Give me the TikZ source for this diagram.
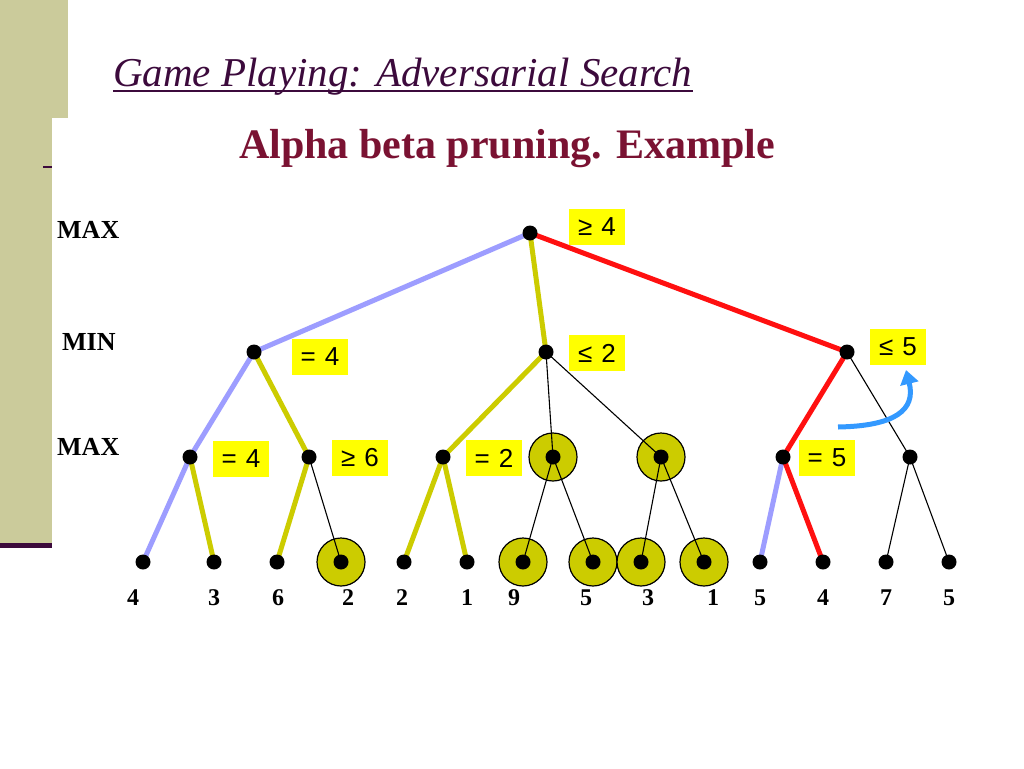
\documentclass[tikz,border=0pt]{standalone}
\usepackage{fontspec}
\setmainfont{Liberation Serif}
\newfontfamily\lsans{Liberation Sans}
\usetikzlibrary{arrows.meta,calc}
\definecolor{olivebg}{HTML}{CBCB9B}
\definecolor{purp}{HTML}{3C0A3C}
\definecolor{maroon}{HTML}{7A1232}
\definecolor{eblue}{HTML}{9D9DFF}
\definecolor{eyel}{HTML}{CCCC00}
\definecolor{ered}{HTML}{FF1010}
\definecolor{arrowblue}{HTML}{3399FF}
\definecolor{circy}{HTML}{CCCC00}
\definecolor{labbg}{HTML}{FFFF00}
\pgfdeclarelayer{paper}
\pgfdeclarelayer{circ}
\pgfdeclarelayer{edges}
\pgfsetlayers{paper,circ,edges,main}
\newcommand{\gap}{\hspace{9pt}}
\tikzset{
  dot/.style={circle,fill=black,inner sep=0pt,minimum size=15pt},
  ring/.style={circle,fill=circy,draw=black,line width=1.2pt,inner sep=0pt,minimum size=48pt},
  eb/.style={eblue,line width=5pt},
  ey/.style={eyel,line width=5pt},
  er/.style={ered,line width=5pt},
  ek/.style={black,line width=1.1pt},
  lab/.style={fill=labbg,font=\lsans\fontsize{26}{26}\selectfont,inner xsep=3pt,minimum height=36pt,minimum width=56pt},
  leaf/.style={font=\bfseries\fontsize{24}{24}\selectfont,inner sep=0pt},
  lvl/.style={font=\bfseries\fontsize{26}{26}\selectfont,inner sep=0pt,anchor=west},
}
\begin{document}
\begin{tikzpicture}[x=1pt,y=-1pt]
\useasboundingbox (0,0) rectangle (1024,768);
\begin{pgfonlayer}{paper}
\fill[white] (0,0) rectangle (1024,768);
% side decoration
\fill[olivebg] (0,0) rectangle (68,118);
\fill[olivebg] (0,118) rectangle (52,543);
\fill[purp] (0,543) rectangle (52,548);
\draw[purp,line width=1.5pt] (43,167) -- (52,167);
\end{pgfonlayer}
% titles
\node[anchor=base west,inner sep=0pt,font=\itshape\fontsize{41}{41}\selectfont,text=purp] (title) at (113,86) {Game Playing: Adversarial Search};
\draw[purp,line width=1.8pt] ($(title.base west)+(0,5)$) -- ($(title.base east)+(0,5)$);
\node[anchor=base,inner sep=0pt,font=\bfseries\fontsize{42}{42}\selectfont,text=maroon] (sub) at (507,158) {Alpha beta pruning. Example};
% level labels
\node[lvl] (lmax1) at (57,230) {MAX};
\node[lvl] (lmin) at (62,342) {MIN};
\node[lvl] (lmax2) at (57,447) {MAX};
% tree nodes
\node[dot] (r) at (530,233) {};
\node[dot] (a) at (254,352) {};
\node[dot] (b) at (546,352) {};
\node[dot] (c) at (847,352) {};
\node[dot] (a1) at (190,457) {};
\node[dot] (a2) at (309,457) {};
\node[dot] (b1) at (443,457) {};
\node[dot] (b2) at (553,457) {};
\node[dot] (b3) at (661,457) {};
\node[dot] (c1) at (783,457) {};
\node[dot] (c2) at (910,457) {};
\foreach \i/\x in {1/143,2/214,3/277,4/341,5/404,6/467,7/523,8/593,9/641,10/704,11/760,12/823,13/886,14/949}{
  \node[dot] (l\i) at (\x,562) {};
}
% leaf values
\foreach \i/\x/\v in {1/133/4,2/214/3,3/278/6,4/348/2,5/402/2,6/467/1,7/514/9,8/586/5,9/648/3,10/713/1,11/760/5,12/823/4,13/886/7,14/949/5}{
  \node[leaf] (v\i) at (\x,598) {\v};
}
% rings
\begin{pgfonlayer}{circ}
\node[ring] (rb2) at (b2) {};
\node[ring] (rb3) at (b3) {};
\node[ring] (rl4) at (l4) {};
\node[ring] (rl7) at (l7) {};
\node[ring] (rl8) at (l8) {};
\node[ring] (rl9) at (l9) {};
\node[ring] (rl10) at (l10) {};
\end{pgfonlayer}
% edges
\begin{pgfonlayer}{edges}
\draw[eb] (r.center) -- (a.center);
\draw[ey] (r.center) -- (b.center);
\draw[er] (r.center) -- (c.center);
\draw[eb] (a.center) -- (a1.center);
\draw[ey] (a.center) -- (a2.center);
\draw[ey] (b.center) -- (b1.center);
\draw[ek] (b.center) -- (b2.center);
\draw[ek] (b.center) -- (b3.center);
\draw[er] (c.center) -- (c1.center);
\draw[ek] (c.center) -- (c2.center);
\draw[eb] (a1.center) -- (l1.center);
\draw[ey] (a1.center) -- (l2.center);
\draw[ey] (a2.center) -- (l3.center);
\draw[ek] (a2.center) -- (l4.center);
\draw[ey] (b1.center) -- (l5.center);
\draw[ey] (b1.center) -- (l6.center);
\draw[ek] (b2.center) -- (l7.center);
\draw[ek] (b2.center) -- (l8.center);
\draw[ek] (b3.center) -- (l9.center);
\draw[ek] (b3.center) -- (l10.center);
\draw[eb] (c1.center) -- (l11.center);
\draw[er] (c1.center) -- (l12.center);
\draw[ek] (c2.center) -- (l13.center);
\draw[ek] (c2.center) -- (l14.center);
\end{pgfonlayer}
% value labels
\node[lab] (tr) at (597,227) {≥\gap4};
\node[lab] (ta) at (320,357) {=\gap4};
\node[lab] (tb) at (597,353) {≤\gap2};
\node[lab] (tc) at (898,347) {≤\gap5};
\node[lab] (ta1) at (241,459) {=\gap4};
\node[lab] (ta2) at (360,458) {≥\gap6};
\node[lab] (tb1) at (494,458) {=\gap2};
\node[lab] (tc1) at (827,458) {=\gap5};
% blue arrow
\coordinate (s) at (838,427);
\coordinate (e) at (906,370);
\draw[arrowblue,line width=5pt,-{Triangle[length=14pt,width=18pt]}] (s) .. controls (895,426) and (916,410) .. (e);
\end{tikzpicture}
\end{document}
